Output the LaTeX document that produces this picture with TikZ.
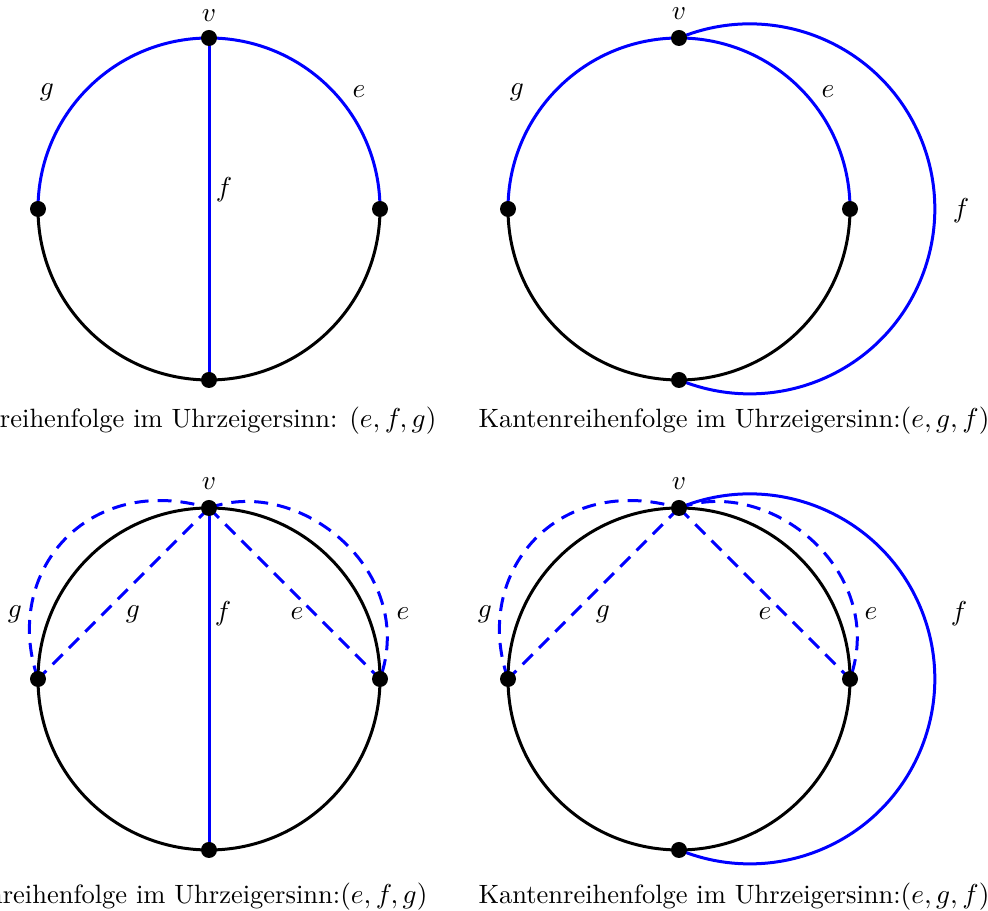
\documentclass[tikz,border=0pt]{standalone}
\begin{document}
\begin{tikzpicture}[x=0.4pt,y=0.4pt,
  edge/.style={line width=1.2pt},
  blk/.style={edge,black},
  blu/.style={edge,blue},
  bdash/.style={edge,blue,dash pattern=on 5.6pt off 3.6pt},
  dot/.style={circle,fill=black,inner sep=0pt,minimum size=6.4pt},
  lab/.style={font=\fontsize{10.6}{12}\selectfont,inner sep=0pt},
  captext/.style={font=\fontsize{10.6}{12}\selectfont,inner sep=0pt}]
\useasboundingbox (0,0) rectangle (988,911);

% ---------- Panel A (top-left)
\coordinate (a-c) at (209,702);
\coordinate (a-v) at (209,873);
\coordinate (a-l) at (38,702);
\coordinate (a-r) at (380,702);
\coordinate (a-b) at (209,531);
\draw[blu] (a-l) arc[start angle=180,end angle=90,radius=171];
\draw[blu] (a-v) arc[start angle=90,end angle=0,radius=171];
\draw[blk] (a-r) arc[start angle=0,end angle=-180,radius=171];
\draw[blu] (a-v) -- (a-b);
\node[dot] (a-vd) at (a-v) {};
\node[dot] (a-ld) at (a-l) {};
\node[dot] (a-rd) at (a-r) {};
\node[dot] (a-bd) at (a-b) {};
\node[lab] (a-vl) at (209,895) {$v$};
\node[lab] (a-gl) at (47,819) {$g$};
\node[lab] (a-el) at (359,819) {$e$};
\node[lab] (a-fl) at (224,721) {$f$};
\node[captext,anchor=base east] (a-cap) at (437,483) {Kantenreihenfolge im Uhrzeigersinn: $(e,f,g)$};

% ---------- Panel B (top-right)
\coordinate (b-c) at (679,702);
\coordinate (b-v) at (679,873);
\coordinate (b-l) at (508,702);
\coordinate (b-r) at (850,702);
\coordinate (b-b) at (679,531);
\draw[blu] (b-l) arc[start angle=180,end angle=90,radius=171];
\draw[blu] (b-v) arc[start angle=90,end angle=0,radius=171];
\draw[blk] (b-r) arc[start angle=0,end angle=-180,radius=171];
\draw[blu] (b-v) arc[start angle=112.5,end angle=-112.5,radius=185];
\node[dot] (b-vd) at (b-v) {};
\node[dot] (b-ld) at (b-l) {};
\node[dot] (b-rd) at (b-r) {};
\node[dot] (b-bd) at (b-b) {};
\node[lab] (b-vl) at (679,897) {$v$};
\node[lab] (b-gl) at (517,819) {$g$};
\node[lab] (b-el) at (828,819) {$e$};
\node[lab] (b-fl) at (961,700) {$f$};
\node[captext,anchor=base west] (b-cap) at (478,483) {Kantenreihenfolge im Uhrzeigersinn:$(e,g,f)$};

% ---------- Panel C (bottom-left)
\coordinate (c-c) at (209,232);
\coordinate (c-v) at (209,403);
\coordinate (c-l) at (38,232);
\coordinate (c-r) at (380,232);
\coordinate (c-b) at (209,61);
\draw[blk] (c-c) circle[radius=171];
\draw[blu] (c-v) -- (c-b);
\draw[bdash] (c-v) -- (c-l);
\draw[bdash] (c-v) -- (c-r);
\draw[bdash] (c-l) .. controls +(-37,107) and +(-121,36) .. (c-v);
\draw[bdash] (c-v) .. controls +(91,33) and +(38,107) .. (c-r);
\node[dot] (c-vd) at (c-v) {};
\node[dot] (c-ld) at (c-l) {};
\node[dot] (c-rd) at (c-r) {};
\node[dot] (c-bd) at (c-b) {};
\node[lab] (c-vl) at (209,427) {$v$};
\node[lab] (c-gol) at (15,297) {$g$};
\node[lab] (c-gil) at (133,297) {$g$};
\node[lab] (c-fl) at (223,297) {$f$};
\node[lab] (c-eil) at (297,297) {$e$};
\node[lab] (c-eol) at (403,297) {$e$};
\node[captext,anchor=base east] (c-cap) at (428,7) {Kantenreihenfolge im Uhrzeigersinn:$(e,f,g)$};

% ---------- Panel D (bottom-right)
\coordinate (d-c) at (679,232);
\coordinate (d-v) at (679,403);
\coordinate (d-l) at (508,232);
\coordinate (d-r) at (850,232);
\coordinate (d-b) at (679,61);
\draw[blk] (d-c) circle[radius=171];
\draw[blu] (d-v) arc[start angle=112.5,end angle=-112.5,radius=185];
\draw[bdash] (d-v) -- (d-l);
\draw[bdash] (d-v) -- (d-r);
\draw[bdash] (d-l) .. controls +(-37,107) and +(-121,36) .. (d-v);
\draw[bdash] (d-v) .. controls +(91,33) and +(38,107) .. (d-r);
\node[dot] (d-vd) at (d-v) {};
\node[dot] (d-ld) at (d-l) {};
\node[dot] (d-rd) at (d-r) {};
\node[dot] (d-bd) at (d-b) {};
\node[lab] (d-vl) at (679,427) {$v$};
\node[lab] (d-gol) at (485,297) {$g$};
\node[lab] (d-gil) at (603,297) {$g$};
\node[lab] (d-eil) at (765,297) {$e$};
\node[lab] (d-eol) at (871,297) {$e$};
\node[lab] (d-fl) at (959,297) {$f$};
\node[captext,anchor=base west] (d-cap) at (478,7) {Kantenreihenfolge im Uhrzeigersinn:$(e,g,f)$};
\end{tikzpicture}
\end{document}
